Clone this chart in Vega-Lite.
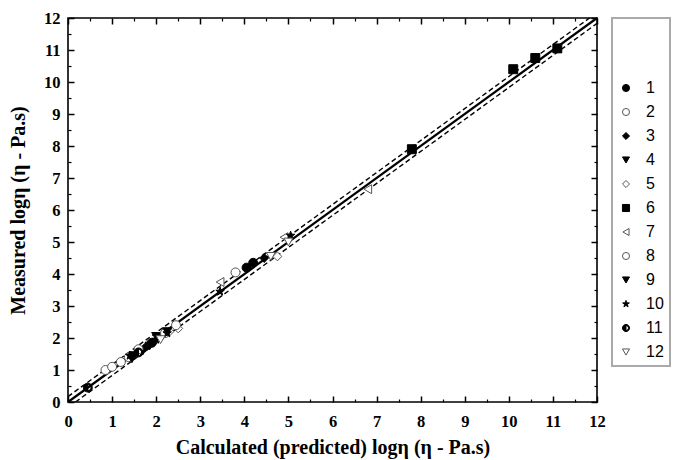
{
  "$schema": "https://vega.github.io/schema/vega-lite/v6.json",
  "width": 529,
  "height": 384,
  "autosize": {"type": "none"},
  "padding": {"left": 68, "top": 18, "right": 91, "bottom": 58},
  "config": {
    "view": {"stroke": "black", "strokeWidth": 1.6},
    "font": "Liberation Serif",
    "legend": {"strokeWidth": 2}
  },
  "datasets": {
    "fit": [
      {"x": 0, "y": 0},
      {"x": 12, "y": 12}
    ],
    "band": [
      {"x": 0, "y": 0.17, "g": "up"},
      {"x": 11.83, "y": 12, "g": "up"},
      {"x": 0.17, "y": 0, "g": "lo"},
      {"x": 12, "y": 11.83, "g": "lo"}
    ],
    "pts": [
      {"x": 4.05, "y": 4.2, "s": "1"},
      {"x": 4.2, "y": 4.35, "s": "1"},
      {"x": 1.9, "y": 1.85, "s": "1"},
      {"x": 0.85, "y": 1.0, "s": "2"},
      {"x": 1.0, "y": 1.1, "s": "2"},
      {"x": 1.2, "y": 1.25, "s": "2"},
      {"x": 1.38, "y": 1.4, "s": "2"},
      {"x": 3.8, "y": 4.05, "s": "2"},
      {"x": 4.45, "y": 4.5, "s": "3"},
      {"x": 1.75, "y": 1.7, "s": "3"},
      {"x": 1.5, "y": 1.45, "s": "4"},
      {"x": 1.7, "y": 1.6, "s": "4"},
      {"x": 2.0, "y": 2.05, "s": "4"},
      {"x": 2.3, "y": 2.2, "s": "5"},
      {"x": 2.5, "y": 2.3, "s": "5"},
      {"x": 4.75, "y": 4.55, "s": "5"},
      {"x": 7.8, "y": 7.9, "s": "6"},
      {"x": 10.1, "y": 10.4, "s": "6"},
      {"x": 10.6, "y": 10.75, "s": "6"},
      {"x": 11.1, "y": 11.05, "s": "6"},
      {"x": 3.45, "y": 3.75, "s": "7"},
      {"x": 4.9, "y": 5.15, "s": "7"},
      {"x": 6.8, "y": 6.65, "s": "7"},
      {"x": 1.6, "y": 1.65, "s": "8"},
      {"x": 2.2, "y": 2.15, "s": "8"},
      {"x": 2.45, "y": 2.4, "s": "8"},
      {"x": 1.45, "y": 1.35, "s": "9"},
      {"x": 1.85, "y": 1.75, "s": "9"},
      {"x": 2.25, "y": 2.2, "s": "9"},
      {"x": 1.4, "y": 1.45, "s": "10"},
      {"x": 2.0, "y": 1.95, "s": "10"},
      {"x": 2.25, "y": 2.15, "s": "10"},
      {"x": 3.45, "y": 3.45, "s": "10"},
      {"x": 5.05, "y": 5.2, "s": "10"},
      {"x": 0.45, "y": 0.45, "s": "11"},
      {"x": 1.6, "y": 1.55, "s": "11"},
      {"x": 4.6, "y": 4.55, "s": "12"},
      {"x": 5.0, "y": 5.0, "s": "12"},
      {"x": 2.1, "y": 1.95, "s": "12"}
    ]
  },
  "layer": [
    {
      "data": {"name": "fit"},
      "mark": {"type": "line", "color": "black", "strokeWidth": 2.2},
      "encoding": {
        "x": {"field": "x", "type": "quantitative", "scale": {"domain": [0, 12], "nice": false},
          "axis": {"orient": "bottom", "values": [0,1,2,3,4,5,6,7,8,9,10,11,12], "tickSize": -6, "tickWidth": 1.5, "tickColor": "black",
            "domain": false, "grid": false, "labelFont": "Liberation Serif", "labelFontWeight": "bold", "labelFontSize": 16.5, "labelColor": "black", "labelPadding": 17, "labelFlush": false,
            "title": "Calculated (predicted)  logη (η - Pa.s)", "titleFont": "Liberation Serif", "titleFontWeight": "bold", "titleFontSize": 20, "titleColor": "black", "titlePadding": 8}},
        "y": {"field": "y", "type": "quantitative", "scale": {"domain": [0, 12], "nice": false},
          "axis": {"orient": "left", "values": [0,1,2,3,4,5,6,7,8,9,10,11,12], "tickSize": -6, "tickWidth": 1.5, "tickColor": "black",
            "domain": false, "grid": false, "labelFont": "Liberation Serif", "labelFontWeight": "bold", "labelFontSize": 16.5, "labelColor": "black", "labelPadding": 14, "labelFlush": false,
            "title": "Measured logη  (η - Pa.s)", "titleFont": "Liberation Serif", "titleFontWeight": "bold", "titleFontSize": 20, "titleColor": "black", "titlePadding": 15}}
      }
    },
    {
      "data": {"name": "band"},
      "mark": {"type": "line", "color": "black", "strokeWidth": 1.4, "strokeDash": [5, 3]},
      "encoding": {
        "x": {"field": "x", "type": "quantitative",
          "axis": {"orient": "bottom", "values": [0.5,1.5,2.5,3.5,4.5,5.5,6.5,7.5,8.5,9.5,10.5,11.5], "tickSize": -3, "tickWidth": 1.2, "tickColor": "black", "labels": false, "domain": false, "grid": false, "title": null}},
        "y": {"field": "y", "type": "quantitative",
          "axis": {"orient": "left", "values": [0.5,1.5,2.5,3.5,4.5,5.5,6.5,7.5,8.5,9.5,10.5,11.5], "tickSize": -3, "tickWidth": 1.2, "tickColor": "black", "labels": false, "domain": false, "grid": false, "title": null}},
        "detail": {"field": "g", "type": "nominal"}
      }
    },
    {
      "data": {"name": "fit"},
      "mark": {"type": "line", "opacity": 0},
      "encoding": {
        "x": {"field": "x", "type": "quantitative",
          "axis": {"orient": "top", "values": [0.5,1.5,2.5,3.5,4.5,5.5,6.5,7.5,8.5,9.5,10.5,11.5], "tickSize": -3, "tickWidth": 1.2, "tickColor": "black", "labels": false, "domain": false, "grid": false, "title": null}},
        "y": {"field": "y", "type": "quantitative",
          "axis": {"orient": "right", "values": [0.5,1.5,2.5,3.5,4.5,5.5,6.5,7.5,8.5,9.5,10.5,11.5], "tickSize": -3, "tickWidth": 1.2, "tickColor": "black", "labels": false, "domain": false, "grid": false, "title": null}}
      }
    },
    {
      "data": {"name": "pts"},
      "mark": {"type": "point", "size": 80, "strokeWidth": 1, "opacity": 1},
      "encoding": {
        "x": {"field": "x", "type": "quantitative",
          "axis": {"orient": "top", "values": [0,1,2,3,4,5,6,7,8,9,10,11,12], "tickSize": -6, "tickWidth": 1.5, "tickColor": "black", "labels": false, "domain": false, "grid": false, "title": null}},
        "y": {"field": "y", "type": "quantitative",
          "axis": {"orient": "right", "values": [0,1,2,3,4,5,6,7,8,9,10,11,12], "tickSize": -6, "tickWidth": 1.5, "tickColor": "black", "labels": false, "domain": false, "grid": false, "title": null}},
        "shape": {"field": "s", "type": "nominal",
          "scale": {"domain": ["1","2","3","4","5","6","7","8","9","10","11","12"],
            "range": ["circle", "circle", "diamond", "triangle-down", "diamond", "square", "triangle-left", "circle", "triangle-down",
              "M0,-1L0.235,-0.324L0.951,-0.309L0.38,0.124L0.588,0.809L0,0.4L-0.588,0.809L-0.38,0.124L-0.951,-0.309L-0.235,-0.324Z",
              "M0,-1A1,1,0,1,1,0,1A1,1,0,1,1,0,-1Z M0,-0.7A0.7,0.7,0,1,0,0,0.7A0.7,0.7,0,1,0,0,-0.7Z M0,-0.7A0.7,0.7,0,0,0,0,0.7Z",
              "triangle-down"]},
          "legend": {"title": " ", "orient": "none", "legendX": 544, "legendY": 0, "padding": 6, "titleFontSize": 12, "titlePadding": 44,
            "strokeColor": "#aaaaaa", "fillColor": "white", "labelFont": "Liberation Sans", "labelFontSize": 16, "labelColor": "black",
            "labelOffset": 12, "rowPadding": 8, "symbolSize": 50, "symbolStrokeWidth": 1, "labelLimit": 60}},
        "fill": {"field": "s", "type": "nominal",
          "scale": {"domain": ["1","2","3","4","5","6","7","8","9","10","11","12"],
            "range": ["black", "white", "black", "black", "white", "black", "white", "white", "black", "black", "black", "white"]}},
        "stroke": {"field": "s", "type": "nominal",
          "scale": {"domain": ["1","2","3","4","5","6","7","8","9","10","11","12"],
            "range": ["black", "#555555", "black", "black", "#555555", "black", "#555555", "#555555", "black", "black", "black", "#555555"]}}
      }
    }
  ],
  "resolve": {"axis": {"x": "independent", "y": "independent"}}
}
